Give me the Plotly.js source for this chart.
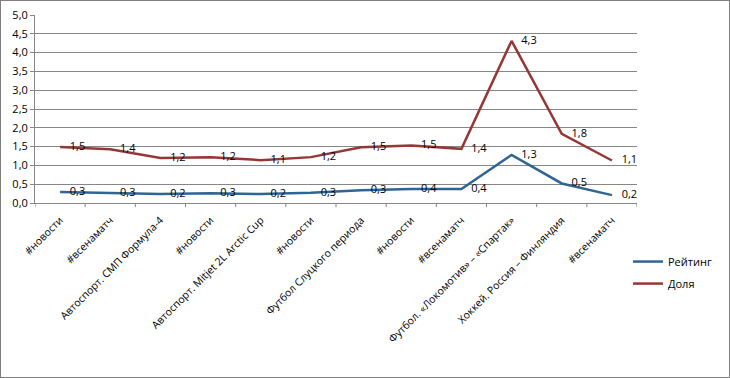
<!DOCTYPE html>
<html><head><meta charset="utf-8">
<script src="https://cdn.plot.ly/plotly-3.0.1.min.js"></script>
<style>
html,body{margin:0;padding:0;background:#fff;}
#wrap{width:730px;height:378px;box-sizing:border-box;border:1px solid #7f7f7f;}
#chart{width:728px;height:376px;}
</style></head>
<body><div id="wrap"><div id="chart"></div></div>
<script>
const categories = ["#новости","#всенаматч","Автоспорт. СМП Формула-4","#новости","Автоспорт. Mitjet 2L Arctic Cup","#новости","Футбол Слуцкого периода","#новости","#всенаматч","Футбол. «Локомотив» – «Спартак»","Хоккей. Россия – Финляндия","#всенаматч"];
const rating = [0.29, 0.27, 0.24, 0.26, 0.24, 0.27, 0.34, 0.37, 0.37, 1.28, 0.52, 0.21];
const share  = [1.49, 1.43, 1.20, 1.22, 1.14, 1.22, 1.48, 1.53, 1.44, 4.31, 1.84, 1.13];
const yTicks = [0,0.5,1,1.5,2,2.5,3,3.5,4,4.5,5];

const xIdx = categories.map((c,i)=>i);
const lblFont = {family:"Open Sans, DejaVu Sans, sans-serif", size:11, color:"#000"};
const traces = [
  {x:xIdx, y:rating, name:"Рейтинг", type:"scatter", mode:"lines+markers+text", legendgroup:"a",
   line:{color:"#2f6595", width:2.5}, marker:{size:14, color:"rgba(0,0,0,0)"},
   text:rating.map(v=>v.toFixed(1).replace('.',',')), textposition:"middle right", textfont:lblFont, cliponaxis:false},
  {x:xIdx, y:share, name:"Доля", type:"scatter", mode:"lines+markers+text", legendgroup:"b",
   line:{color:"#953735", width:2.5}, marker:{size:14, color:"rgba(0,0,0,0)"},
   text:share.map(v=>v.toFixed(1).replace('.',',')), textposition:"middle right", textfont:lblFont, cliponaxis:false}
];
const layout = {
  width:728, height:376,
  margin:{l:34, r:65, t:14, b:174},
  paper_bgcolor:"#fff", plot_bgcolor:"#fff",
  font:{family:"Open Sans, DejaVu Sans, sans-serif", size:11, color:"#000"},
  showlegend:true,
  legend:{x:0.985, xanchor:"left", y:-0.37, yanchor:"middle", font:{size:11}, bgcolor:"rgba(0,0,0,0)",
          traceorder:"grouped", tracegroupgap:3, itemwidth:30},
  xaxis:{type:"linear", range:[-0.5,11.5], tickmode:"array", tickvals:xIdx, ticktext:categories,
         tickangle:-45, showgrid:false, showline:true, linecolor:"#868686", linewidth:1,
         ticks:"", ticklabelstandoff:6, zeroline:false, tickfont:{size:10.5}},
  yaxis:{range:[0,5], tickmode:"array", tickvals:yTicks, ticktext:yTicks.map(v=>v.toFixed(1).replace('.',',')),
         showgrid:true, gridcolor:"#868686", gridwidth:1, showline:true, linecolor:"#868686",
         ticks:"outside", ticklen:4, tickcolor:"#868686", zeroline:false, tickfont:{size:11}},
  shapes: xIdx.concat([12]).map(i=>({type:"line", xref:"x", yref:"paper", x0:i-0.5, x1:i-0.5, y0:0, y1:-0.022, line:{color:"#868686", width:1}}))
};
Plotly.newPlot("chart", traces, layout, {displayModeBar:false, staticPlot:true});
</script></body></html>
